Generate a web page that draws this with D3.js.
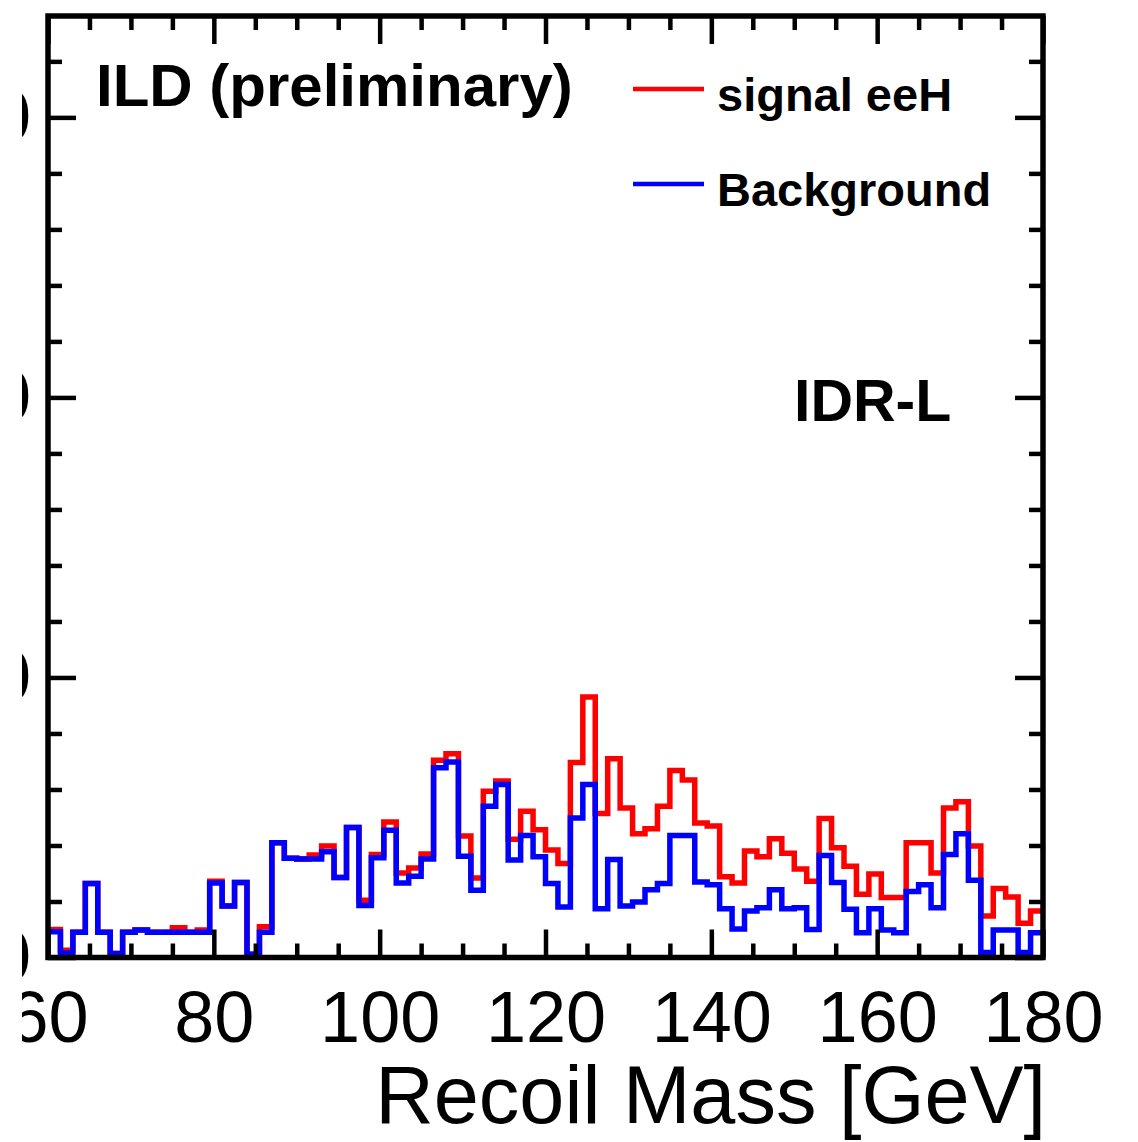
<!DOCTYPE html>
<html><head><meta charset="utf-8">
<script src="https://cdn.jsdelivr.net/npm/d3@7"></script>
<style>
html,body{margin:0;padding:0;background:#fff;}
svg{display:block;font-family:"Liberation Sans",Arial,Helvetica,sans-serif;}
</style>
</head><body>
<svg id="c" width="1138" height="1142"></svg>
<script>
// ---- data (80 bins of 1.5 GeV from 60 to 180 GeV) ----
const xMin = 60, xMax = 180, binWidth = 1.5;
const signalPlusBackground = [
  5.0, 1.3, 4.5, 13.2, 4.5, 0.7, 4.5, 4.9, 4.5, 4.5,
  5.3, 4.5, 4.9, 13.6, 9.2, 13.4, 0.6, 5.5, 20.5, 17.7,
  17.6, 18.3, 19.9, 14.3, 23.2, 10.2, 18.4, 24.2, 15.1, 16.0,
  18.5, 35.2, 36.4, 21.7, 14.2, 29.7, 31.5, 21.1, 26.1, 22.8,
  19.2, 16.8, 34.8, 46.5, 25.7, 35.5, 26.7, 22.1, 23.0, 27.0,
  33.4, 31.7, 24.0, 23.5, 14.4, 13.3, 19.0, 18.0, 21.2, 18.6,
  15.8, 13.6, 24.8, 19.6, 16.3, 11.3, 14.9, 10.7, 10.7, 20.5,
  20.5, 15.1, 26.7, 27.8, 19.9, 7.4, 12.3, 10.8, 6.1, 8.3
];
const background = [
  4.6, 0.8, 4.5, 13.2, 4.5, 0.7, 4.5, 4.9, 4.5, 4.5,
  4.5, 4.5, 4.5, 13.3, 9.2, 13.4, 0.6, 4.5, 20.5, 17.7,
  17.6, 17.6, 18.9, 14.3, 23.2, 9.3, 17.8, 22.7, 13.3, 14.5,
  17.6, 33.9, 34.9, 18.1, 12.0, 27.0, 30.9, 17.4, 21.8, 18.0,
  13.2, 9.0, 24.9, 30.9, 8.7, 17.5, 9.2, 9.9, 12.1, 13.2,
  21.8, 21.8, 13.5, 13.0, 8.7, 5.1, 8.3, 8.9, 12.1, 8.7,
  8.9, 5.0, 18.2, 13.4, 8.6, 4.4, 8.7, 4.9, 4.4, 11.8,
  13.0, 8.9, 18.4, 22.1, 13.8, 0.9, 4.9, 4.9, 0.9, 4.4
];
const xTickValues = [60, 80, 100, 120, 140, 160, 180];
const yTickValues = [0, 50, 100, 150];
const legendLabels = ["signal eeH", "Background"];
const seriesColors = ["#ff0000", "#0000ff"];
const titleText = "ILD (preliminary)";
const detectorText = "IDR-L";
const xTitle = "Recoil Mass [GeV]";

// ---- layout ----
const L = 48, R = 1043, T = 16, B = 957.5;
const x = d3.scaleLinear().domain([xMin, xMax]).range([L, R]);
const y = d3.scaleLinear().domain([0, 168.1]).range([B, T]);

const svg = d3.select("#c");
svg.append("defs").append("clipPath").attr("id", "clipAll")
  .append("rect").attr("x", 22).attr("y", 0).attr("width", 1116).attr("height", 1142);
const g = svg.append("g").attr("clip-path", "url(#clipAll)");

// ---- histograms ----
function histPoints(vals) {
  const pts = vals.map((v, i) => [xMin + i * binWidth, v]);
  pts.push([xMax, vals[vals.length - 1]]);
  return pts;
}
const line = d3.line().x(d => x(d[0])).y(d => y(d[1])).curve(d3.curveStepAfter);
[signalPlusBackground, background].forEach((vals, k) => {
  g.append("path").attr("d", line(histPoints(vals)))
    .attr("fill", "none").attr("stroke", seriesColors[k])
    .attr("stroke-width", 5.5).attr("stroke-linejoin", "miter").attr("stroke-linecap", "butt");
});

// ---- axes / ticks ----
const minorX = d3.range(xMin, xMax + 0.01, 5).filter(v => v % 20 !== 0);
const minorY = d3.range(0, 168, 10).filter(v => v % 50 !== 0);

function styleAxis(sel) {
  sel.select(".domain").remove();
  sel.selectAll(".tick line").attr("stroke", "#000").attr("stroke-width", 4.5);
  sel.selectAll(".tick text").attr("fill", "#000").style("font-size", "72px")
    .style("font-family", '"Liberation Sans",Arial,Helvetica,sans-serif');
}
// bottom
g.append("g").attr("transform", `translate(0,${B})`)
  .call(d3.axisBottom(x).tickValues(minorX).tickSize(-14).tickFormat("")).call(styleAxis);
g.append("g").attr("transform", `translate(0,${B})`)
  .call(d3.axisBottom(x).tickValues(xTickValues).tickSize(-28).tickPadding(33).tickFormat(d3.format("d")))
  .call(styleAxis);
// top
g.append("g").attr("transform", `translate(0,${T})`)
  .call(d3.axisTop(x).tickValues(minorX).tickSize(-14).tickFormat("")).call(styleAxis);
g.append("g").attr("transform", `translate(0,${T})`)
  .call(d3.axisTop(x).tickValues(xTickValues).tickSize(-28).tickFormat("")).call(styleAxis);
// left
g.append("g").attr("transform", `translate(${L},0)`)
  .call(d3.axisLeft(y).tickValues(minorY).tickSize(-14).tickFormat("")).call(styleAxis);
g.append("g").attr("transform", `translate(${L},0)`)
  .call(d3.axisLeft(y).tickValues(yTickValues).tickSize(-28).tickPadding(17).tickFormat(d3.format("d")))
  .call(styleAxis);
// right
g.append("g").attr("transform", `translate(${R},0)`)
  .call(d3.axisRight(y).tickValues(minorY).tickSize(-14).tickFormat("")).call(styleAxis);
g.append("g").attr("transform", `translate(${R},0)`)
  .call(d3.axisRight(y).tickValues(yTickValues).tickSize(-28).tickFormat("")).call(styleAxis);

// frame
g.append("rect").attr("x", L).attr("y", T).attr("width", R - L).attr("height", B - T)
  .attr("fill", "none").attr("stroke", "#000").attr("stroke-width", 5.5);

// ---- texts ----
g.append("text").attr("x", 96).attr("y", 106).attr("font-weight", "bold")
  .style("font-size", "60px").attr("fill", "#000").text(titleText);
g.append("text").attr("x", 794).attr("y", 421).attr("font-weight", "bold")
  .style("font-size", "59px").attr("fill", "#000").text(detectorText);
g.append("text").attr("x", 1046).attr("y", 1123).attr("text-anchor", "end")
  .style("font-size", "81px").attr("fill", "#000").text(xTitle);

// legend
const legendY = [89, 184], legendTextY = [110.7, 205.7];
legendLabels.forEach((lab, k) => {
  g.append("line").attr("x1", 633).attr("x2", 704).attr("y1", legendY[k]).attr("y2", legendY[k])
    .attr("stroke", seriesColors[k]).attr("stroke-width", 4.5);
  g.append("text").attr("x", 717).attr("y", legendTextY[k]).attr("font-weight", "bold")
    .style("font-size", "47px").attr("fill", "#000").text(lab);
});
</script>
</body></html>
